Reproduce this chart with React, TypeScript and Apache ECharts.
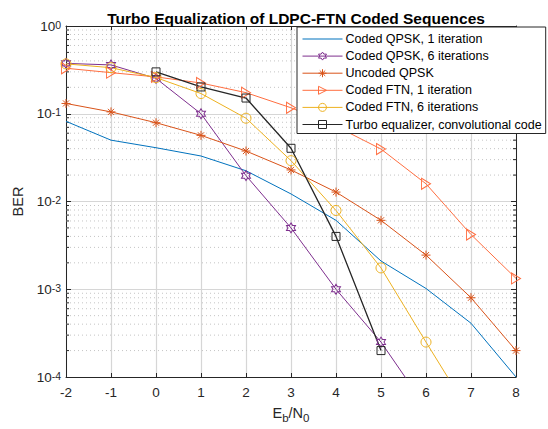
import React, { useEffect, useRef } from 'react';
import * as echarts from 'echarts';

// ---- data ----
const ebn0 = [-2, -1, 0, 1, 2, 3, 4, 5, 6, 7, 8];
const qpsk1Iter = [0.082, 0.05, 0.041, 0.033, 0.0224, 0.0122, 0.0061, 0.0021, 0.00102, 0.00041, 0.0001];
const qpsk6Iter = [0.375, 0.36, 0.253, 0.1, 0.0197, 0.005, 0.001, 0.00025, 0.000045];
const uncodedQpsk = [0.131, 0.105, 0.079, 0.0567, 0.0376, 0.0229, 0.0128, 0.0061, 0.00245, 0.0008, 0.0002];
const ftn1Iter = [0.33, 0.294, 0.263, 0.224, 0.174, 0.117, 0.072, 0.0396, 0.0159, 0.0042, 0.00133];
const ftn6Iter = [0.37, 0.335, 0.258, 0.17, 0.089, 0.0292, 0.0079, 0.00175, 0.00025, 0.000037];
const turboX = [0, 1, 2, 3, 4, 5];
const turboConv = [0.3, 0.202, 0.151, 0.0404, 0.004, 0.0002];

const seriesNames = [
  'Coded QPSK, 1 iteration',
  'Coded QPSK, 6 iterations',
  'Uncoded QPSK',
  'Coded FTN, 1 iteration',
  'Coded FTN, 6 iterations',
  'Turbo equalizer, convolutional code',
];
const colors = ['#0072BD', '#7E2F8E', '#D95319', '#FF6E40', '#EDB120', '#262626'];

const decades = [-4, -3, -2, -1];
const minorMultipliers = [2, 3, 4, 5, 6, 7, 8, 9];
const minorValues = decades.flatMap((d) => minorMultipliers.map((m) => m * Math.pow(10, d)));

const HEXAGRAM =
  'path://M10,0L12.89,5L18.66,5L15.77,10L18.66,15L12.89,15L10,20L7.11,15L1.34,15L4.23,10L1.34,5L7.11,5Z';
const ASTERISK = 'path://M5,0L5,10M0,5L10,5M1.6,1.6L8.4,8.4M1.6,8.4L8.4,1.6';
const TRI_RIGHT = 'path://M0,0L10,6L0,12Z';
// plain line legend icon (thin bar centred vertically in the icon box)
const LINE_ICON = 'path://M0,0L0,0.01M0,4.5L40,4.5L40,5.5L0,5.5ZM0,9.99L0,10';

const pair = (xs: number[], ys: number[]) => ys.map((y, i) => [xs[i], y]);

const axisColor = '#262626';
const FONT = 'Liberation Sans, Arial, Helvetica, sans-serif';

function lineSeries(i: number, data: number[][], symbol: string, size: number | number[], lw = 1) {
  return {
    type: 'line',
    name: seriesNames[i],
    data,
    symbol,
    symbolSize: size,
    showSymbol: symbol !== 'none',
    clip: true,
    z: 3,
    lineStyle: { color: colors[i], width: lw },
    itemStyle: { color: 'none', borderColor: colors[i], borderWidth: 1 },
    emphasis: { disabled: true },
  };
}

export default function App() {
  const ref = useRef<HTMLDivElement>(null);
  useEffect(() => {
    const chart = echarts.init(ref.current!, null, { renderer: 'svg' });
    const supRich = {
      b: { fontSize: 13.5, lineHeight: 14, padding: [4, 0, 0, 0], verticalAlign: 'bottom', color: axisColor, fontFamily: FONT },
      s: { fontSize: 10.5, lineHeight: 11, verticalAlign: 'top', color: axisColor, fontFamily: FONT },
    };
    const legendData = seriesNames.map((n, i) =>
      i === 0
        ? { name: n, icon: LINE_ICON, itemStyle: { color: colors[0], borderWidth: 0 } }
        : { name: n, itemStyle: { color: 'none', borderColor: colors[i], borderWidth: 1 } }
    );
    const option: any = {
      animation: false,
      backgroundColor: '#fff',
      textStyle: { fontFamily: FONT },
      title: {
        text: 'Turbo Equalization of LDPC-FTN Coded Sequences',
        left: 291,
        top: 5,
        textAlign: 'center',
        textStyle: { fontSize: 15.5, fontWeight: 'bold', color: '#000', fontFamily: FONT },
      },
      grid: { left: 66, right: 32, top: 26, bottom: 51, containLabel: false },
      legend: {
        data: legendData,
        orient: 'vertical',
        left: 297,
        top: 27,
        itemWidth: 40,
        itemHeight: 10,
        itemGap: 3.1,
        padding: [5, 4, 2, 5],
        backgroundColor: '#fff',
        borderColor: axisColor,
        borderWidth: 1,
        borderRadius: 0,
        lineStyle: { width: 1 },
        textStyle: { fontSize: 12.5, lineHeight: 14, color: '#000', fontFamily: FONT, padding: [0, 0, 0, -2] },
        selectedMode: false,
        z: 10,
      },
      xAxis: [
        {
          type: 'value',
          min: -2,
          max: 8,
          interval: 1,
          position: 'bottom',
          name: '{m|E}{s|b}{m|/N}{s|0}',
          nameLocation: 'middle',
          nameGap: 28,
          nameTextStyle: {
            rich: {
              m: { fontSize: 14.5, lineHeight: 16, verticalAlign: 'top', color: axisColor, fontFamily: FONT },
              s: { fontSize: 11.5, lineHeight: 11, padding: [7, 0, 0, 0], verticalAlign: 'top', color: axisColor, fontFamily: FONT },
            },
          },
          axisLine: { show: true, onZero: false, lineStyle: { color: axisColor, width: 1 } },
          axisTick: { show: true, inside: true, length: 4, lineStyle: { color: axisColor } },
          axisLabel: { show: true, margin: 8, fontSize: 13.5, color: axisColor, fontFamily: FONT },
          splitLine: { show: true, lineStyle: { color: '#d6d6d6', width: 1.2 } },
        },
        {
          type: 'value',
          min: -2,
          max: 8,
          interval: 1,
          position: 'top',
          axisLine: { show: true, onZero: false, lineStyle: { color: axisColor, width: 1 } },
          axisTick: { show: true, inside: true, length: 4, lineStyle: { color: axisColor } },
          axisLabel: { show: false },
          splitLine: { show: false },
        },
      ],
      yAxis: [
        {
          type: 'log',
          logBase: 10,
          min: 0.0001,
          max: 1,
          position: 'left',
          name: 'BER',
          nameLocation: 'middle',
          nameRotate: 90,
          nameGap: 39,
          nameTextStyle: { fontSize: 14.5, color: axisColor, fontFamily: FONT },
          axisLine: { show: true, onZero: false, lineStyle: { color: axisColor, width: 1 } },
          axisTick: { show: true, inside: true, length: 5, lineStyle: { color: axisColor } },
          axisLabel: {
            show: true,
            margin: 5,
            formatter: (v: number) => `{b|10}{s|${Math.round(Math.log10(v))}}`,
            rich: supRich,
          },
          splitLine: { show: true, lineStyle: { color: '#d6d6d6', width: 1.2 } },
        },
        {
          type: 'log',
          logBase: 10,
          min: 0.0001,
          max: 1,
          position: 'right',
          axisLine: { show: true, onZero: false, lineStyle: { color: axisColor, width: 1 } },
          axisTick: { show: true, inside: true, length: 5, lineStyle: { color: axisColor } },
          axisLabel: { show: false },
          splitLine: { show: false },
        },
      ],
      series: [
        {
          type: 'custom',
          silent: true,
          z: 1,
          data: minorValues.map((v) => [-2, v]),
          renderItem: (params: any, api: any) => {
            const v = api.value(1);
            const p0 = api.coord([-2, v]);
            const p1 = api.coord([8, v]);
            return {
              type: 'group',
              children: [
                {
                  type: 'line',
                  shape: { x1: p0[0], y1: p0[1], x2: p1[0], y2: p1[1] },
                  style: { stroke: '#c4c4c4', lineWidth: 1, lineDash: [1, 3] },
                },
                {
                  type: 'line',
                  shape: { x1: p0[0], y1: p0[1], x2: p0[0] + 3, y2: p0[1] },
                  style: { stroke: axisColor, lineWidth: 1 },
                },
                {
                  type: 'line',
                  shape: { x1: p1[0], y1: p1[1], x2: p1[0] - 3, y2: p1[1] },
                  style: { stroke: axisColor, lineWidth: 1 },
                },
              ],
            };
          },
        },
        lineSeries(0, pair(ebn0, qpsk1Iter), 'none', 0),
        lineSeries(1, pair(ebn0, qpsk6Iter), HEXAGRAM, [9, 10]),
        lineSeries(2, pair(ebn0, uncodedQpsk), ASTERISK, 9),
        lineSeries(3, pair(ebn0, ftn1Iter), TRI_RIGHT, [9, 11]),
        lineSeries(4, pair(ebn0, ftn6Iter), 'circle', 10),
        lineSeries(5, pair(turboX, turboConv), 'rect', 8, 1.3),
      ],
    };
    chart.setOption(option);
    return () => chart.dispose();
  }, []);
  return (
    <div
      ref={ref}
      style={{ position: 'absolute', left: 0, top: 0, width: 548, height: 429, background: '#fff' }}
    />
  );
}
